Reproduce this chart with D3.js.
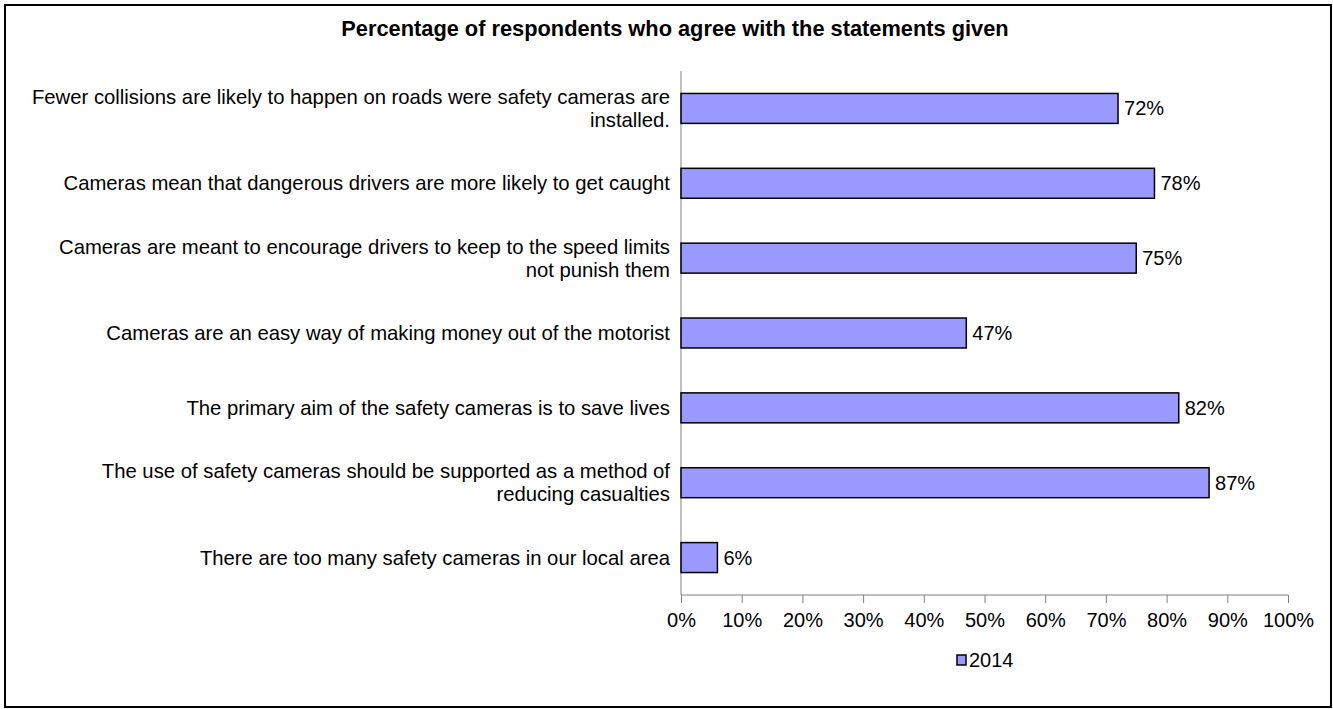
<!DOCTYPE html>
<html>
<head>
<meta charset="utf-8">
<script src="https://cdn.jsdelivr.net/npm/d3@7"></script>
<style>
  body { margin: 0; background: #fff; }
  text { font-family: "Liberation Sans", Arial, sans-serif; fill: #000; }
</style>
</head>
<body>
<div id="chart"></div>
<script>
// statements, each one split into the lines shown on the chart
const statements = [
  ["Fewer collisions are likely to happen on roads were safety cameras are", "installed."],
  ["Cameras mean that dangerous drivers are more likely to get caught"],
  ["Cameras are meant to encourage drivers to keep to the speed limits", "not punish them"],
  ["Cameras are an easy way of making money out of the motorist"],
  ["The primary aim of the safety cameras is to save lives"],
  ["The use of safety cameras should be supported as a method of", "reducing casualties"],
  ["There are too many safety cameras in our local area"]
]
const values2014 = [72, 78, 75, 47, 82, 87, 6]
const xTicks = [0, 10, 20, 30, 40, 50, 60, 70, 80, 90, 100]
const seriesName = "2014"
const title = "Percentage of respondents who agree with the statements given"

var width = 1333
    height = 709
    plot = {left: 681, right: 1288, top: 71, bottom: 595}
    fontSize = 20
    catFont = 20.3

var svg = d3.select("#chart")
    .append("svg")
    .attr("width", width)
    .attr("height", height);

// outer frame
svg.append("rect")
    .attr("x", 5).attr("y", 5)
    .attr("width", width - 7).attr("height", height - 7)
    .style("fill", "none")
    .style("stroke", "#000")
    .style("stroke-width", 2);

svg.append("text")
    .attr("x", 675)
    .attr("y", 36)
    .attr("text-anchor", "middle")
    .style("font-size", "21.8px")
    .style("font-weight", "bold")
    .text(title);

var x = d3.scaleLinear()
    .domain([0, 100])
    .range([plot.left, plot.right]);

var y = d3.scaleBand()
    .domain(d3.range(statements.length))
    .range([plot.top, plot.bottom])
    .paddingInner(0.6)
    .paddingOuter(0.3);

// x axis
var xAxis = svg.append("g")
    .attr("transform", "translate(0," + plot.bottom + ")")
    .call(d3.axisBottom(x).tickValues(xTicks).tickSize(8).tickPadding(10)
          .tickFormat(function (d) { return d + "%"; }));
xAxis.select(".domain").attr("stroke", "#808080").attr("d", "M" + plot.left + ",0H" + plot.right);
xAxis.selectAll(".tick line").attr("stroke", "#808080");
xAxis.selectAll(".tick text")
    .style("font-size", fontSize + "px")
    .style("font-family", '"Liberation Sans", Arial, sans-serif');

// y axis line
svg.append("line")
    .attr("x1", plot.left).attr("x2", plot.left)
    .attr("y1", plot.top).attr("y2", plot.bottom)
    .style("stroke", "#808080");

// bars
svg.selectAll(".bar")
    .data(values2014)
    .enter().append("rect")
    .attr("class", "bar")
    .attr("x", x(0))
    .attr("y", function (d, i) { return y(i); })
    .attr("width", function (d) { return x(d) - x(0); })
    .attr("height", y.bandwidth())
    .style("fill", "#9999ff")
    .style("stroke", "#000")
    .style("stroke-width", 1.5);

// value labels
svg.selectAll(".val")
    .data(values2014)
    .enter().append("text")
    .attr("x", function (d) { return x(d) + 6; })
    .attr("y", function (d, i) { return y(i) + y.bandwidth() / 2; })
    .attr("dy", "0.35em")
    .style("font-size", fontSize + "px")
    .text(function (d) { return d + "%"; });

// category labels
var lineGap = 23
svg.selectAll(".cat")
    .data(statements)
    .enter().append("text")
    .attr("class", "cat")
    .attr("text-anchor", "end")
    .style("font-size", catFont + "px")
    .each(function (lines, i) {
      var cy = y(i) + y.bandwidth() / 2 - (lines.length - 1) * lineGap / 2
      d3.select(this).selectAll("tspan")
        .data(lines)
        .enter().append("tspan")
        .attr("x", 670)
        .attr("y", function (l, j) { return cy + j * lineGap; })
        .attr("dy", "0.35em")
        .text(function (l) { return l; });
    });

// legend
var legend = svg.append("g").attr("transform", "translate(957,655)");
legend.append("rect")
    .attr("width", 9).attr("height", 10)
    .style("fill", "#9999ff")
    .style("stroke", "#000")
    .style("stroke-width", 1.5);
legend.append("text")
    .attr("x", 12).attr("y", 5)
    .attr("dy", "0.35em")
    .style("font-size", fontSize + "px")
    .text(seriesName);
</script>
</body>
</html>
